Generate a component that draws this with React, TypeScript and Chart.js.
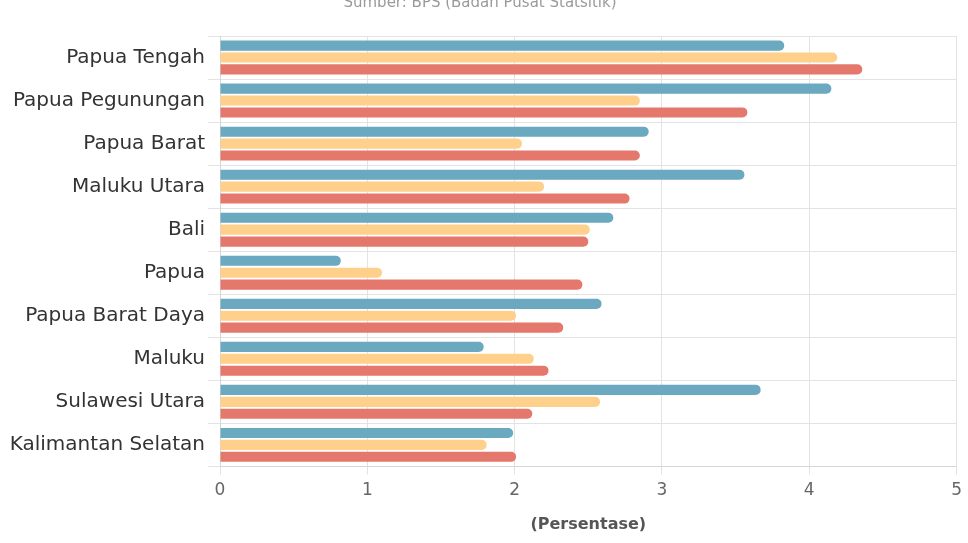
import React, { useEffect, useRef } from "react";
import { Chart, registerables } from "chart.js";

Chart.register(...registerables);

const categories = [
  "Papua Tengah",
  "Papua Pegunungan",
  "Papua Barat",
  "Maluku Utara",
  "Bali",
  "Papua",
  "Papua Barat Daya",
  "Maluku",
  "Sulawesi Utara",
  "Kalimantan Selatan",
];
const seriesBlue = [3.83, 4.15, 2.91, 3.56, 2.67, 0.82, 2.59, 1.79, 3.67, 1.99];
const seriesYellow = [4.19, 2.85, 2.05, 2.2, 2.51, 1.1, 2.01, 2.13, 2.58, 1.81];
const seriesRed = [4.36, 3.58, 2.85, 2.78, 2.5, 2.46, 2.33, 2.23, 2.12, 2.01];
const xTicks = [0, 1, 2, 3, 4, 5];
const subtitleText = "Sumber: BPS (Badan Pusat Statsitik)";
const xTitle = "(Persentase)";

const FONT = "'DejaVu Sans', 'Noto Sans', sans-serif";

export default function App() {
  const ref = useRef<HTMLCanvasElement | null>(null);
  useEffect(() => {
    if (!ref.current) return;
    const ds = (label: string, data: number[], color: string) => ({
      label,
      data,
      backgroundColor: color,
      borderRadius: 5,
      borderSkipped: "start" as const,
      categoryPercentage: 0.83,
      barPercentage: 0.85,
    });
    const chart = new Chart(ref.current, {
      type: "bar",
      data: {
        labels: categories,
        datasets: [
          ds("2021", seriesBlue, "#6aa9bf"),
          ds("2022", seriesYellow, "#fed08c"),
          ds("2023", seriesRed, "#e5786c"),
        ],
      },
      options: {
        indexAxis: "y",
        animation: false,
        responsive: false,
        maintainAspectRatio: false,
        layout: { padding: { left: 0, right: 8, top: 0, bottom: 9 } },
        plugins: {
          legend: { display: false },
          tooltip: { enabled: false },
          title: { display: false },
          subtitle: {
            display: true,
            text: subtitleText,
            color: "#9a9a9a",
            font: { family: FONT, size: 15 },
            padding: { top: 4, bottom: 24 },
          },
        },
        scales: {
          x: {
            min: 0,
            max: 5,
            afterBuildTicks: (axis: any) => {
              axis.ticks = xTicks.map((v) => ({ value: v }));
            },
            grid: { color: "#e3e3e3", tickLength: 8, drawTicks: true },
            border: { color: "#d6d6d6" },
            ticks: {
              color: "#666",
              font: { family: FONT, size: 17 },
              padding: 6,
            },
            title: {
              display: true,
              text: xTitle,
              color: "#555",
              font: { family: FONT, size: 16, weight: "bold" },
              padding: { top: 8, bottom: 0 },
            },
          },
          y: {
            afterFit: (axis: any) => {
              axis.width = 220;
            },
            grid: { color: "#e3e3e3", tickLength: 12, offset: true },
            border: { color: "#d6d6d6" },
            ticks: {
              color: "#333",
              font: { family: FONT, size: 20 },
              padding: 3,
            },
          },
        },
      },
    });
    return () => chart.destroy();
  }, []);
  return (
    <div style={{ position: "fixed", left: 0, top: -10, width: 968, height: 553 }}>
      <canvas ref={ref} width={968} height={553} style={{ width: 968, height: 553 }} />
    </div>
  );
}
